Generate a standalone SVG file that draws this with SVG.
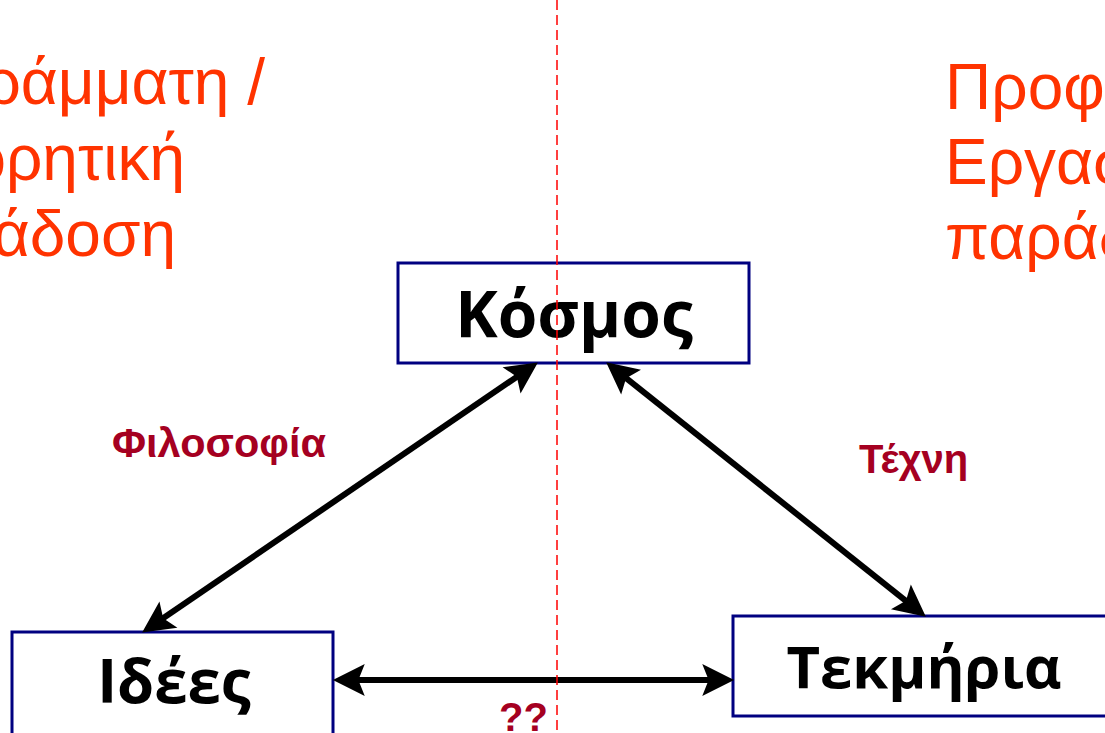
<svg xmlns="http://www.w3.org/2000/svg" width="1105" height="733" viewBox="0 0 1105 733">
<style>
.orange{font-family:"Liberation Sans",Arial,sans-serif;font-size:64px;fill:#FF3300}
.box{fill:#fff;stroke:#000080;stroke-width:3}
.lbl{font-family:"Open Sans","Noto Sans",sans-serif;font-weight:bold;font-size:60px;fill:#000;text-anchor:middle}
.edge{font-family:"Liberation Sans",Arial,sans-serif;font-weight:bold;font-size:40px;fill:#A50021}
.conn{stroke:#000;stroke-width:6;fill:none;marker-start:url(#ah);marker-end:url(#ah)}
</style>
<defs>
<marker id="ah" markerUnits="userSpaceOnUse" markerWidth="34" markerHeight="34" viewBox="0 -16 31 32" refX="12" refY="0" orient="auto-start-reverse">
<path d="M0,-15 L30,0 L0,15 L6,0 z" fill="#000"/>
</marker>
</defs>
<rect width="1105" height="733" fill="#fff"/>
<g id="left-title">
<text class="orange" x="265" y="104" text-anchor="end">Εγγράμματη /</text>
<text class="orange" x="185" y="180" text-anchor="end">Θεωρητική</text>
<text class="orange" x="176" y="256" text-anchor="end">παράδοση</text>
</g>
<g id="right-title">
<text class="orange" x="945" y="109">Προφορική /</text>
<text class="orange" x="945" y="184">Εργαστηριακή</text>
<text class="orange" x="945" y="259">παράδοση</text>
</g>
<g id="kosmos">
<rect class="box" x="398" y="263" width="351" height="100"/>
<text class="lbl" x="574" y="337" style="font-size:64px">Κόσμος</text>
</g>
<g id="ideas">
<rect class="box" x="12" y="632" width="321" height="110"/>
<text class="lbl" x="174" y="703">Ιδέες</text>
</g>
<g id="tekmiria">
<rect class="box" x="733" y="616" width="390" height="100"/>
<text class="lbl" x="924" y="688" style="font-size:58px">Τεκμήρια</text>
</g>
<g id="connectors">
<line class="conn" x1="522.1" y1="373.2" x2="157.9" y2="621.8"/>
<line class="conn" x1="621.1" y1="374.2" x2="910.9" y2="604.8"/>
<line class="conn" x1="352" y1="680" x2="715" y2="680"/>
</g>
<g id="edge-labels">
<text class="edge" x="112" y="457" style="font-size:41.5px">Φιλοσοφία</text>
<text class="edge" x="859" y="473">Τέχνη</text>
<text class="edge" x="499" y="731">??</text>
</g>
<line id="divider" x1="557" y1="0" x2="557" y2="733" stroke="#FF0000" stroke-width="1.5" stroke-dasharray="10 5"/>
</svg>
